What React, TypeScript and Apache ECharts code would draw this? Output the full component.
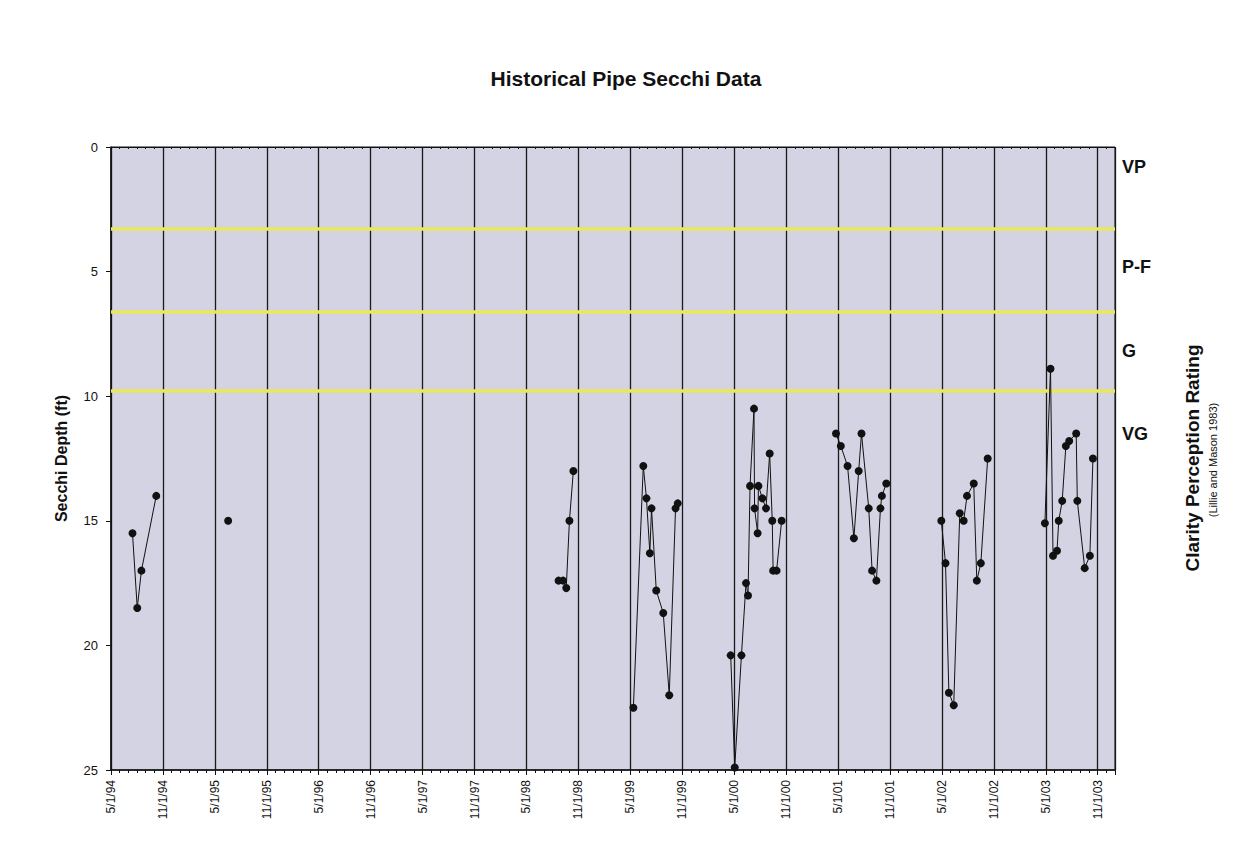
import React, { useEffect, useRef } from "react";
import * as echarts from "echarts";

// ---- data (sample dates, Secchi depth in ft) ----
const dates1994 = ["1994-07-16", "1994-08-02", "1994-08-17", "1994-10-08"];
const depth1994 = [15.5, 18.5, 17.0, 14.0];

const dates1995 = ["1995-06-17"];
const depth1995 = [15.0];

const dates1998 = ["1998-08-23", "1998-09-08", "1998-09-19", "1998-09-30", "1998-10-14"];
const depth1998 = [17.4, 17.4, 17.7, 15.0, 13.0];

const dates1999 = ["1999-05-12", "1999-06-16", "1999-06-27", "1999-07-09", "1999-07-15", "1999-08-01", "1999-08-26", "1999-09-16", "1999-10-08", "1999-10-16"];
const depth1999 = [22.5, 12.8, 14.1, 16.3, 14.5, 17.8, 18.7, 22.0, 14.5, 14.3];

const dates2000 = ["2000-04-19", "2000-05-03", "2000-05-27", "2000-06-12", "2000-06-19", "2000-06-26", "2000-07-10", "2000-07-12", "2000-07-23", "2000-07-26", "2000-08-09", "2000-08-22", "2000-09-04", "2000-09-13", "2000-09-16", "2000-09-28", "2000-10-16"];
const depth2000 = [20.4, 24.9, 20.4, 17.5, 18.0, 13.6, 10.5, 14.5, 15.5, 13.6, 14.1, 14.5, 12.3, 15.0, 17.0, 17.0, 15.0];

const dates2001 = ["2001-04-24", "2001-05-11", "2001-06-04", "2001-06-26", "2001-07-13", "2001-07-23", "2001-08-18", "2001-08-30", "2001-09-14", "2001-09-28", "2001-10-03", "2001-10-19"];
const depth2001 = [11.5, 12.0, 12.8, 15.7, 13.0, 11.5, 14.5, 17.0, 17.4, 14.5, 14.0, 13.5];

const dates2002 = ["2002-04-29", "2002-05-14", "2002-05-26", "2002-06-12", "2002-07-03", "2002-07-17", "2002-07-29", "2002-08-22", "2002-09-02", "2002-09-16", "2002-10-10"];
const depth2002 = [15.0, 16.7, 21.9, 22.4, 14.7, 15.0, 14.0, 13.5, 17.4, 16.7, 12.5];

const dates2003 = ["2003-04-28", "2003-05-18", "2003-05-27", "2003-06-10", "2003-06-16", "2003-06-28", "2003-07-11", "2003-07-23", "2003-08-17", "2003-08-21", "2003-09-16", "2003-10-04", "2003-10-15"];
const depth2003 = [15.1, 8.9, 16.4, 16.2, 15.0, 14.2, 12.0, 11.8, 11.5, 14.2, 16.9, 16.4, 12.5];

const seasons: [string[], number[]][] = [
  [dates1994, depth1994],
  [dates1995, depth1995],
  [dates1998, depth1998],
  [dates1999, depth1999],
  [dates2000, depth2000],
  [dates2001, depth2001],
  [dates2002, depth2002],
  [dates2003, depth2003],
];

// clarity rating boundaries (ft) and labels
const ratingBoundaries = [3.3, 6.6, 9.8];
const ratingLabels = ["VP", "P-F", "G", "VG"];

// axis ranges: x in months since 5/1/1994
const xStartYear = 1994;
const xStartMonth = 5;
const xMaxMonths = 116; // through 1/1/2004
const yTicks = [0, 5, 10, 15, 20, 25];

const FONT = "'Liberation Sans', Arial, sans-serif";

function toMonths(d: string): number {
  const [y, m, day] = d.split("-").map(Number);
  const dim = new Date(y, m, 0).getDate();
  return (y - xStartYear) * 12 + (m - xStartMonth) + (day - 1) / dim;
}

function monthLabel(v: number): string {
  if (Math.abs(v % 6) > 1e-6) return "";
  const total = xStartMonth - 1 + v;
  const year = xStartYear + Math.floor(total / 12);
  const month = (total % 12) + 1;
  return `${month}/1/${String(year).slice(2)}`;
}

export default function App() {
  const ref = useRef<HTMLDivElement>(null);

  useEffect(() => {
    if (!ref.current) return;
    const chart = echarts.init(ref.current, null, { renderer: "svg" });

    const series: any[] = seasons.map(([ds, vs], i) => ({
      type: "line",
      xAxisIndex: 0,
      yAxisIndex: 0,
      data: ds.map((d, k) => [toMonths(d), vs[k]]),
      symbol: "circle",
      symbolSize: 8,
      showSymbol: true,
      lineStyle: { color: "#111", width: 1 },
      itemStyle: { color: "#111" },
      z: 5,
      ...(i === 0
        ? {
            markLine: {
              silent: true,
              symbol: "none",
              label: { show: false },
              lineStyle: { color: "#e8e85a", width: 3.5, type: "solid" },
              data: ratingBoundaries.map((b) => ({ yAxis: b })),
              z: 2,
            },
          }
        : {}),
    }));

    const labelYs = [168, 268, 352, 435];

    chart.setOption({
      animation: false,
      backgroundColor: "#ffffff",
      title: {
        text: "Historical Pipe Secchi Data",
        left: "center",
        top: 63,
        textStyle: { fontFamily: FONT, fontSize: 21, fontWeight: "bold", color: "#111" },
      },
      grid: {
        left: 111,
        right: 137,
        top: 147,
        bottom: 89,
        show: true,
        backgroundColor: "#d3d3e3",
        borderColor: "#111",
        borderWidth: 1,
      },
      xAxis: [
        {
          type: "value",
          position: "bottom",
          min: 0,
          max: xMaxMonths,
          interval: 6,
          axisLine: { show: true, onZero: false, lineStyle: { color: "#111", width: 1.5 } },
          axisTick: { show: true, inside: false, length: 5, lineStyle: { color: "#111" } },
          minorTick: { show: true, splitNumber: 6, length: 3, lineStyle: { color: "#111" } },
          splitLine: { show: true, lineStyle: { color: "#1a1a1a", width: 1.3 } },
          axisLabel: {
            rotate: 90,
            margin: 10,
            fontFamily: FONT,
            fontSize: 12,
            color: "#111",
            formatter: (v: number) => monthLabel(v),
          },
        },
        {
          type: "value",
          position: "top",
          min: 0,
          max: xMaxMonths,
          interval: 6,
          axisLine: { show: true, onZero: false, lineStyle: { color: "#111" } },
          axisTick: { show: true, inside: true, length: 3, lineStyle: { color: "#111" } },
          minorTick: { show: true, splitNumber: 6, length: 2, lineStyle: { color: "#111" } },
          splitLine: { show: false },
          axisLabel: { show: false },
        },
      ],
      yAxis: {
        type: "value",
        inverse: true,
        min: yTicks[0],
        max: yTicks[yTicks.length - 1],
        interval: 5,
        name: "Secchi Depth (ft)",
        nameLocation: "middle",
        nameRotate: 90,
        nameGap: 42,
        nameTextStyle: { fontFamily: FONT, fontSize: 16, fontWeight: "bold", color: "#111" },
        axisLine: { show: true, onZero: false, lineStyle: { color: "#111", width: 1.5 } },
        axisTick: { show: true, inside: false, length: 5, lineStyle: { color: "#111" } },
        splitLine: { show: false },
        axisLabel: { margin: 13, fontFamily: FONT, fontSize: 13, color: "#111" },
      },
      graphic: [
        ...ratingLabels.map((t, i) => ({
          type: "text",
          left: 1122,
          top: labelYs[i] - 10,
          style: { text: t, fontFamily: FONT, fontSize: 18, fontWeight: "bold", fill: "#111" },
        })),
        {
          type: "text",
          x: 1192,
          y: 458,
          rotation: Math.PI / 2,
          style: {
            text: "Clarity Perception Rating",
            fontFamily: FONT,
            fontSize: 19,
            fontWeight: "bold",
            fill: "#111",
            align: "center",
            verticalAlign: "middle",
          },
        },
        {
          type: "text",
          x: 1213,
          y: 460,
          rotation: Math.PI / 2,
          style: {
            text: "(Lillie and Mason 1983)",
            fontFamily: FONT,
            fontSize: 11,
            fill: "#111",
            align: "center",
            verticalAlign: "middle",
          },
        },
      ],
      series,
    });

    return () => chart.dispose();
  }, []);

  return (
    <div
      ref={ref}
      style={{ position: "fixed", left: 0, top: 0, width: 1252, height: 859, background: "#fff" }}
    />
  );
}
